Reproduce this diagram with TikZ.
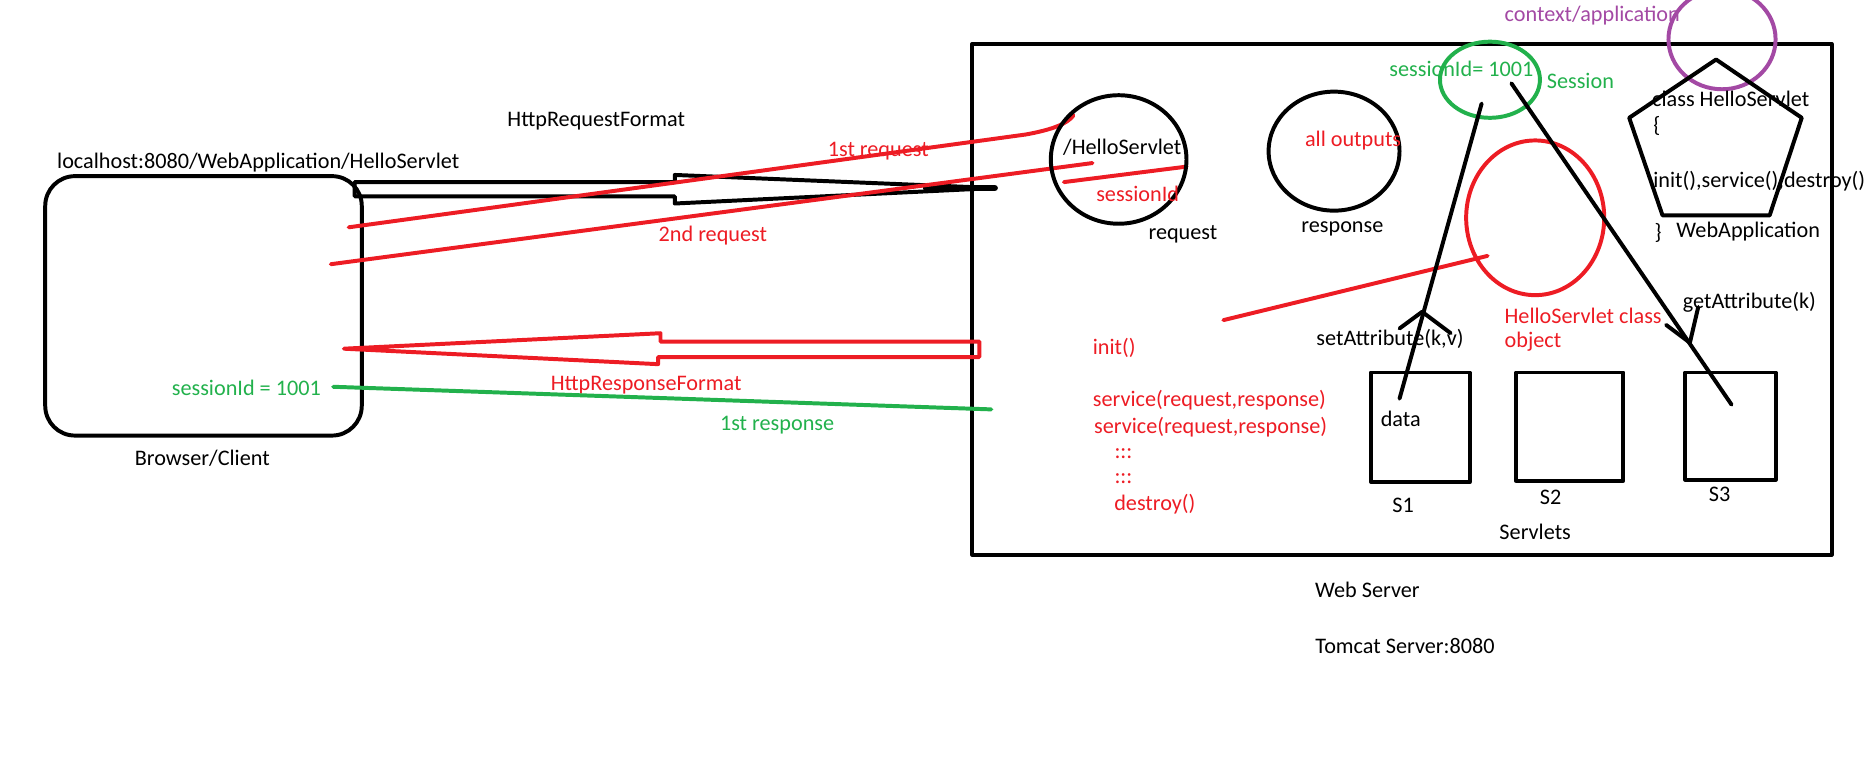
\documentclass[tikz,border=0pt]{standalone}
\usepackage{fontspec}
\setmainfont{Carlito}
\definecolor{pred}{HTML}{ED1C24}
\definecolor{pgreen}{HTML}{22B14C}
\definecolor{ppurple}{HTML}{A349A4}
\tikzset{
  lbl/.style={font=\fontsize{11.2}{13}\selectfont, inner sep=0pt},
  rlbl/.style={lbl, text=pred},
  glbl/.style={lbl, text=pgreen},
  plbl/.style={lbl, text=ppurple},
  blk/.style={draw=black, line width=2pt, line join=round, line cap=round},
  redl/.style={draw=pred, line width=2pt, line join=round, line cap=round},
  grnl/.style={draw=pgreen, line width=2pt, line cap=round},
  purl/.style={draw=ppurple, line width=2pt},
}
\begin{document}
\begin{tikzpicture}[x=0.6pt, y=-0.6pt]
\useasboundingbox (0,0) rectangle (1568,646);

% Browser / client
\draw[blk, rounded corners=15] (38,148) rectangle (304,366);
\node[lbl] (url) at (217,137) {localhost:8080/WebApplication/HelloServlet};
\node[lbl] (client) at (170,385) {Browser/Client};
\node[lbl] (reqfmt) at (501,102) {HttpRequestFormat};

% Web server box
\draw[blk] (817,37) rectangle (1539,466);
\node[lbl] (webserver) at (1149,496) {Web Server};
\node[lbl, anchor=west] (tomcat) at (1105,543) {Tomcat Server:8080};

% request arrow (black outline)
\draw[blk] (298,153) -- (567,153) -- (567,147) -- (836,158) -- (567,171) -- (567,165) -- (298,165) -- cycle;
\draw[blk, line width=3pt] (778,158) -- (836,158);

% response arrow (red outline)
\draw[redl] (823,287) -- (555,287) -- (555,280) -- (289,293) -- (553,306) -- (553,300) -- (823,300) -- cycle;
\node[rlbl] (respfmt) at (543,324) {HttpResponseFormat};

% request lines
\coordinate (r1a) at (293,191);
\coordinate (r1b) at (902,97);
\draw[redl] (r1a) -- (862,113) .. controls (884,109) and (897,104) .. (r1b);
\node[rlbl] (first) at (738,127) {1st request};
\coordinate (r2a) at (278,222);
\coordinate (r2b) at (918,137);
\draw[redl] (r2a) -- (r2b);
\node[rlbl] (second) at (599,198) {2nd request};
\coordinate (sa) at (894,153);
\coordinate (sb) at (997,140);
\draw[redl] (sa) -- (sb);

% green response line
\coordinate (g1) at (280,325);
\coordinate (g2) at (833,344);
\draw[grnl] (g1) -- (g2);
\node[glbl] (sid) at (207,326) {sessionId = 1001};
\node[glbl] (firstresp) at (653,357) {1st response};

% request circle
\draw[blk] (940,134) ellipse [x radius=57, y radius=54];
\node[lbl] (hs) at (943,124) {/HelloServlet};
\node[rlbl] (sidr) at (956,163) {sessionId};
\node[lbl] (request) at (994,197) {request};

% response circle
\draw[blk] (1121,127) ellipse [x radius=55, y radius=50];
\node[rlbl] (allout) at (1137,118) {all outputs};
\node[lbl] (response) at (1128,192) {response};

% session circle
\draw[grnl] (1252,67) ellipse [x radius=42, y radius=32];
\node[glbl] (sess) at (1228,58) {sessionId= 1001};
\node[glbl] (sessl) at (1328,68) {Session};

% context circle
\draw[purl] (1447,33) ellipse [x radius=45, y radius=42];
\node[plbl] (ctx) at (1338,13) {context/application};

% pentagon
\draw[blk] (1442,50) -- (1514,99) -- (1487,181) -- (1397,181) -- (1369,99) -- cycle;
\node[lbl, anchor=west] (cls) at (1388,83) {class HelloServlet};
\node[lbl, anchor=west] (ob) at (1389,106) {\{};
\node[lbl, anchor=west] (meth) at (1389,152) {init(),service(),destroy()};
\node[lbl, anchor=west] (cb) at (1390,196) {\}};
\node[lbl] (webapp) at (1469,195) {WebApplication};

% HelloServlet object circle
\draw[redl] (1290,183) ellipse [x radius=58, y radius=65];
\coordinate (ol1) at (1028,269);
\coordinate (ol2) at (1250,215);
\draw[redl] (ol1) -- (ol2);
\node[rlbl, anchor=west] (hso) at (1264,265) {HelloServlet class};
\node[rlbl, anchor=west] (hso2) at (1264,287) {object};

% lifecycle
\node[rlbl, anchor=west] (init) at (918,292) {init()};
\node[rlbl, anchor=west] (srv1) at (918,336) {service(request,response)};
\node[rlbl, anchor=west] (srv2) at (919,359) {service(request,response)};
\node[rlbl] (d1) at (944,381) {:::};
\node[rlbl] (d2) at (944,402) {:::};
\node[rlbl, anchor=west] (destroy) at (936,424) {destroy()};

% servlets
\draw[blk] (1152,313) rectangle (1235,405);
\draw[blk] (1274,313) rectangle (1364,404);
\draw[blk] (1416,313) rectangle (1492,403);
\node[lbl] (data) at (1177,352) {data};
\node[lbl] (s1) at (1179,425) {S1};
\node[lbl] (s2) at (1303,418) {S2};
\node[lbl] (s3) at (1445,415) {S3};
\node[lbl] (servlets) at (1290,447) {Servlets};

% setAttribute line
\coordinate (sl1) at (1245,87);
\coordinate (sl2) at (1176,335);
\coordinate (sh) at (1195,262);
\draw[blk] (sl1) -- (sl2);
\draw[blk] (1176,276) -- (sh) -- (1219,280);
\node[lbl] (setattr) at (1168,285) {setAttribute(k,v)};

% getAttribute line
\coordinate (gl1) at (1270,70);
\coordinate (gl2) at (1455,340);
\coordinate (gh) at (1420,288);
\draw[blk] (gl1) -- (gl2);
\draw[blk] (1400,273) -- (gh) -- (1427,258);
\node[lbl] (getattr) at (1470,254) {getAttribute(k)};
\end{tikzpicture}
\end{document}
